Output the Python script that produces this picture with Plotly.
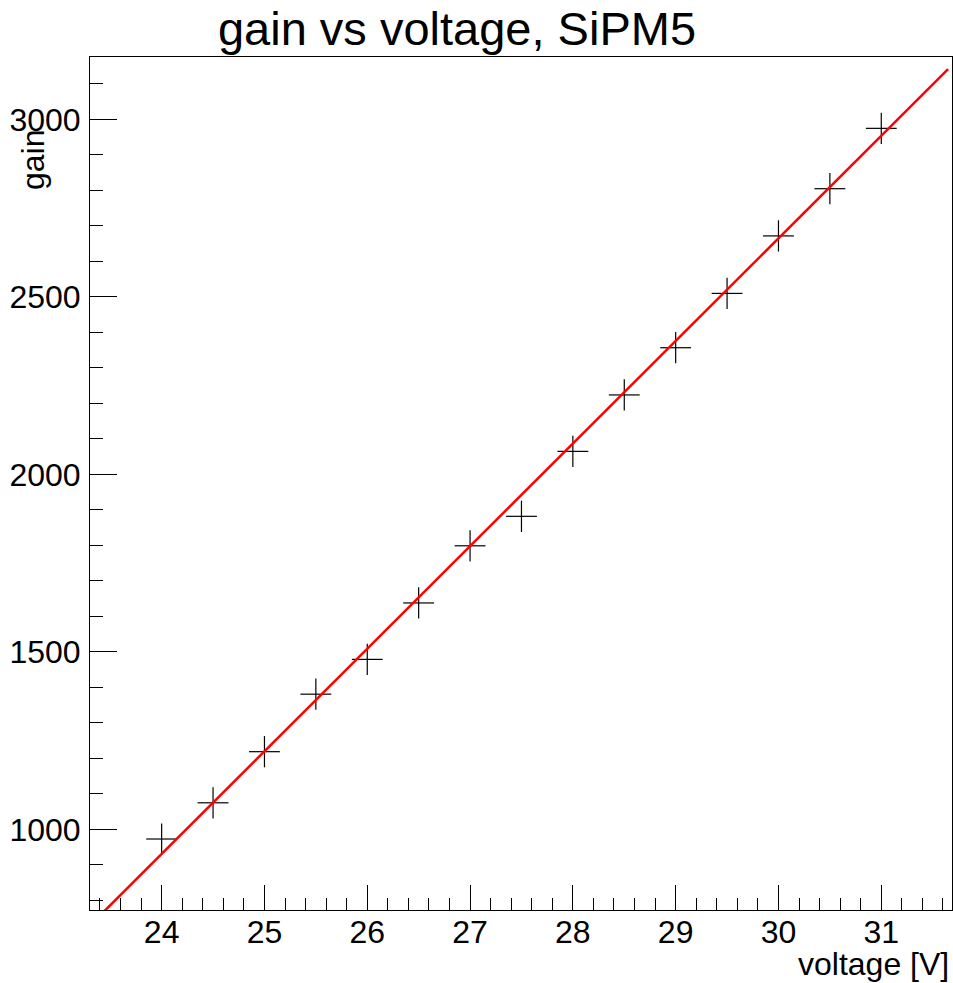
import plotly.graph_objects as go

# Data
voltage = [24, 24.5, 25, 25.5, 26, 26.5, 27, 27.5, 28, 28.5, 29, 29.5, 30, 30.5, 31]
gain = [973, 1075, 1219, 1381, 1479, 1638, 1799, 1882, 2065, 2224, 2357, 2510, 2672, 2805, 2975]
voltage_err = [0.15] * len(voltage)
gain_err = [44] * len(gain)

# linear fit parameters (pol1)
fit_slope = 289.0
fit_intercept = -6005.0
fit_range = [23.30, 31.65]

x_range = [23.303, 31.688]
y_range = [773, 3176]

FONT = "Liberation Sans, Arial, Helvetica, sans-serif"

fig = go.Figure()

fig.add_trace(go.Scatter(
    x=voltage, y=gain, mode="markers",
    marker=dict(size=1, color="rgba(0,0,0,0)"),
    error_x=dict(type="data", array=voltage_err, width=0, thickness=1.2, color="black"),
    error_y=dict(type="data", array=gain_err, width=0, thickness=1.2, color="black"),
    showlegend=False, hoverinfo="x+y",
))

fit_y = [fit_slope * v + fit_intercept for v in fit_range]
fig.add_trace(go.Scatter(
    x=fit_range, y=fit_y, mode="lines",
    line=dict(color="#ff0000", width=2.5),
    showlegend=False,
))

fig.update_layout(
    width=953, height=983,
    margin=dict(l=90, r=1, t=57, b=73),
    paper_bgcolor="white", plot_bgcolor="white",
    font=dict(family=FONT, color="black", size=32),
    title=dict(text="gain vs voltage, SiPM5", x=457/953, xanchor="center",
               y=1 - 29/983, yanchor="middle", font=dict(size=47, family=FONT)),
)

fig.update_xaxes(
    range=x_range, showgrid=False, zeroline=False,
    showline=True, linecolor="black", linewidth=1, mirror=True,
    ticks="inside", ticklen=25, tickwidth=1, tickcolor="black",
    tick0=24, dtick=1,
    minor=dict(ticks="inside", ticklen=12, tickwidth=1, tickcolor="black", dtick=0.2, tick0=24),
    tickfont=dict(size=32, family=FONT),
    ticklabelstandoff=-6,
)
fig.update_yaxes(
    range=y_range, showgrid=False, zeroline=False,
    showline=True, linecolor="black", linewidth=1, mirror=True,
    ticks="inside", ticklen=27, tickwidth=1, tickcolor="black",
    tick0=1000, dtick=500,
    minor=dict(ticks="inside", ticklen=13, tickwidth=1, tickcolor="black", dtick=100, tick0=1000),
    tickfont=dict(size=32, family=FONT),
    ticklabelstandoff=2,
)

fig.add_annotation(
    text="voltage [V]", xref="paper", yref="paper",
    x=(951 - 90) / 862, y=(910 - 964) / 853,
    xanchor="right", yanchor="middle", showarrow=False,
    font=dict(size=32, family=FONT),
)
fig.add_annotation(
    text="gain", xref="paper", yref="paper",
    x=(33 - 90) / 862, y=(910 - 159) / 853,
    xanchor="center", yanchor="middle", showarrow=False, textangle=-90,
    font=dict(size=32, family=FONT),
)

fig.write_html("out.html")
